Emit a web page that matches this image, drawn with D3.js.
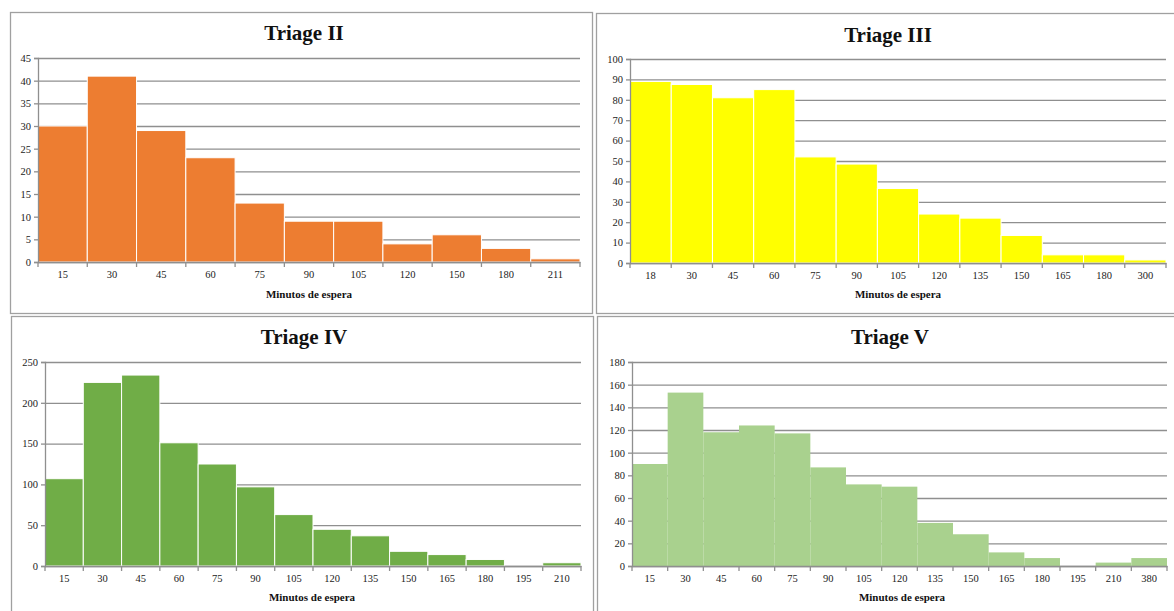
<!DOCTYPE html>
<html>
<head>
<meta charset="utf-8">
<script src="https://cdn.jsdelivr.net/npm/d3@7"></script>
<style>
  html, body { margin: 0; padding: 0; background: #fff; }
  svg { display: block; }
  .tick text { font-family: "Liberation Serif", "DejaVu Serif", serif; fill: #222; }
</style>
</head>
<body>
<svg id="chart" width="1174" height="611"></svg>
<script>
// Wait-time histograms (minutes) per triage level
const catsII  = ["15","30","45","60","75","90","105","120","150","180","211"];
const valsII  = [30, 41, 29, 23, 13, 9, 9, 4, 6, 3, 0.7];
const ticksII = [0, 5, 10, 15, 20, 25, 30, 35, 40, 45];

const catsIII  = ["18","30","45","60","75","90","105","120","135","150","165","180","300"];
const valsIII  = [89, 87.5, 81, 85, 52, 48.5, 36.5, 24, 22, 13.5, 4, 4, 1.5];
const ticksIII = [0, 10, 20, 30, 40, 50, 60, 70, 80, 90, 100];

const catsIV  = ["15","30","45","60","75","90","105","120","135","150","165","180","195","210"];
const valsIV  = [107, 225, 234, 151, 125, 97, 63, 45, 37, 18, 14, 8, 0, 4];
const ticksIV = [0, 50, 100, 150, 200, 250];

const catsV  = ["15","30","45","60","75","90","105","120","135","150","165","180","195","210","380"];
const valsV  = [90, 153, 118, 124, 117, 87, 72, 70, 38, 28, 12, 7, 0, 3, 7];
const ticksV = [0, 20, 40, 60, 80, 100, 120, 140, 160, 180];

const panels = [
  { title: "Triage II",  cats: catsII,  vals: valsII,  ticks: ticksII,  color: "#ED7D31", sep: true,
    frame: [10, 12, 582, 301], plot: [38, 58, 580, 262], titleX: 304, titleY: 40, labelX: 309, labelY: 298 },
  { title: "Triage III", cats: catsIII, vals: valsIII, ticks: ticksIII, color: "#FFFF00", sep: true,
    frame: [596, 13, 580, 300], plot: [630, 59, 1166, 263], titleX: 888, titleY: 42, labelX: 898, labelY: 298 },
  { title: "Triage IV",  cats: catsIV,  vals: valsIV,  ticks: ticksIV,  color: "#70AD47", sep: true,
    frame: [11, 316, 582, 300], plot: [45, 362, 581, 566], titleX: 304, titleY: 344, labelX: 312, labelY: 601 },
  { title: "Triage V",   cats: catsV,   vals: valsV,   ticks: ticksV,   color: "#A9D18E", sep: false,
    frame: [597, 316, 580, 300], plot: [632, 362, 1167, 566], titleX: 890, titleY: 344, labelX: 902, labelY: 601 }
];

const svg = d3.select("#chart");
const serif = '"Liberation Serif", "DejaVu Serif", serif';
const gridColor = "#8f8f8f";

panels.forEach(p => {
  const [fx, fy, fw, fh] = p.frame;
  const [x0, y0, x1, y1] = p.plot;

  // panel frame
  svg.append("rect")
    .attr("x", fx + 0.5).attr("y", fy + 0.5)
    .attr("width", fw).attr("height", fh)
    .attr("fill", "#fff").attr("stroke", "#a0a0a0").attr("stroke-width", 1.3);

  const g = svg.append("g");

  const x = d3.scaleBand().domain(p.cats).range([x0, x1]).padding(0);
  const y = d3.scaleLinear().domain([0, d3.max(p.ticks)]).range([y1, y0]);

  // horizontal gridlines
  g.append("g")
    .attr("transform", `translate(${x0},0)`)
    .call(d3.axisRight(y).tickValues(p.ticks).tickSize(x1 - x0).tickFormat(""))
    .call(a => a.select(".domain").remove())
    .call(a => a.selectAll("line").attr("stroke", gridColor).attr("stroke-width", 1.3));

  // bars
  g.selectAll("rect.bar").data(p.cats).join("rect")
    .attr("class", "bar")
    .attr("x", c => x(c))
    .attr("width", x.bandwidth())
    .attr("y", (c, i) => y(p.vals[i]))
    .attr("height", (c, i) => y(0) - y(p.vals[i]))
    .attr("fill", p.color)
    .attr("stroke", p.sep ? "#fff" : "none")
    .attr("stroke-width", 1);

  // y axis
  g.append("g")
    .attr("transform", `translate(${x0},0)`)
    .call(d3.axisLeft(y).tickValues(p.ticks).tickSize(4).tickPadding(3))
    .call(a => a.select(".domain").attr("stroke", gridColor).attr("stroke-width", 1.3))
    .call(a => a.selectAll("line").attr("stroke", gridColor).attr("stroke-width", 1.3))
    .call(a => a.selectAll("text").attr("font-size", 10.5));

  // x axis baseline and labels
  g.append("g")
    .attr("transform", `translate(0,${y1})`)
    .call(d3.axisBottom(x).tickSize(0).tickPadding(9))
    .call(a => a.select(".domain").attr("stroke", gridColor).attr("stroke-width", 1.3))
    .call(a => a.selectAll("text").attr("font-size", 10.5));

  // tick marks at bin boundaries
  const bounds = p.cats.map(c => x(c)).concat([x1]);
  g.selectAll("line.bt").data(bounds).join("line")
    .attr("class", "bt")
    .attr("x1", d => d).attr("x2", d => d)
    .attr("y1", y1).attr("y2", y1 + 5)
    .attr("stroke", gridColor).attr("stroke-width", 1.3);

  // title
  svg.append("text")
    .attr("x", p.titleX)
    .attr("y", p.titleY)
    .attr("text-anchor", "middle")
    .attr("font-family", serif).attr("font-weight", "bold").attr("font-size", 21)
    .attr("fill", "#111")
    .text(p.title);

  // axis title
  svg.append("text")
    .attr("x", p.labelX)
    .attr("y", p.labelY)
    .attr("text-anchor", "middle")
    .attr("font-family", serif).attr("font-weight", "bold").attr("font-size", 11)
    .attr("fill", "#111")
    .text("Minutos de espera");
});
</script>
</body>
</html>
